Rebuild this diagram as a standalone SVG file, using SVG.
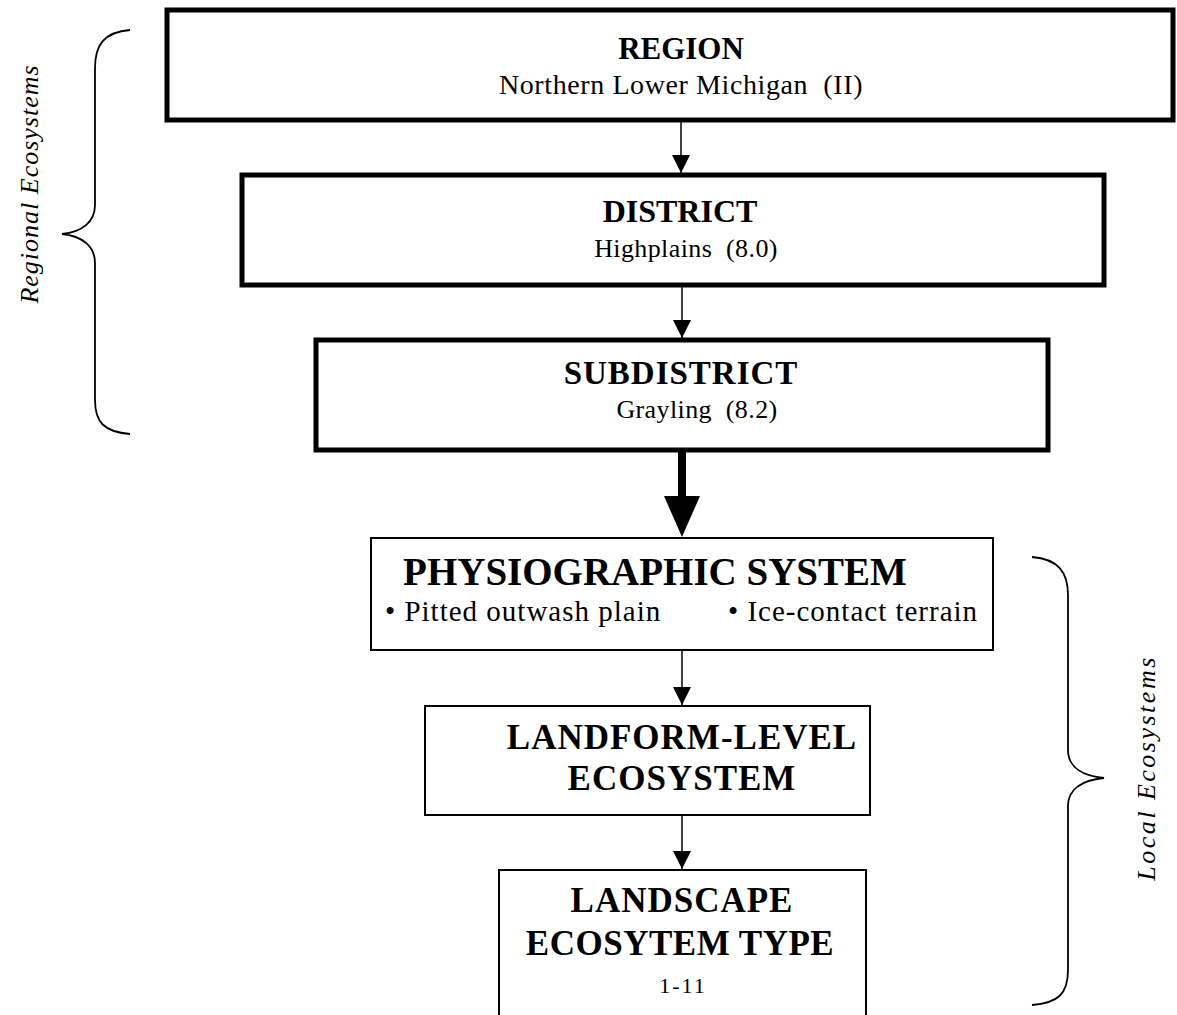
<svg xmlns="http://www.w3.org/2000/svg" width="1177" height="1015" viewBox="0 0 1177 1015">
<style>
  .bg { fill: #ffffff; }
  .boxT { fill: #ffffff; stroke: #000; stroke-width: 5; }
  .boxt { fill: #ffffff; stroke: #000; stroke-width: 2; }
  .title { font-family: "Liberation Serif", "Times New Roman", serif; font-weight: bold; fill: #000; text-anchor: middle; }
  .sub { font-family: "Liberation Serif", "Times New Roman", serif; fill: #000; text-anchor: middle; white-space: pre; }
  .bul { font-family: "Liberation Serif", "Times New Roman", serif; fill: #000; text-anchor: start; font-size: 29px; letter-spacing: 1px; }
  .side { font-family: "Liberation Serif", "Times New Roman", serif; font-style: italic; fill: #000; text-anchor: middle; font-size: 26px; }
  .conn { stroke: #000; stroke-width: 1.5; fill: none; }
  .thick { stroke: #000; stroke-width: 8; fill: none; }
  .brace { stroke: #000; stroke-width: 1.8; fill: none; }
</style>
<defs>
  <marker id="ah" markerUnits="userSpaceOnUse" markerWidth="18" markerHeight="18" refX="18" refY="9" orient="auto">
    <path d="M0,0 L18,9 L0,18 Z" fill="#000"/>
  </marker>
</defs>
<rect class="bg" x="0" y="0" width="1177" height="1015"/>

<g id="connectors">
  <line class="conn" x1="681" y1="122" x2="681" y2="173" marker-end="url(#ah)"/>
  <line class="conn" x1="682" y1="287" x2="682" y2="338" marker-end="url(#ah)"/>
  <line class="thick" x1="682" y1="452" x2="682" y2="500"/>
  <path d="M664,496 L700,496 L682,537 Z" fill="#000"/>
  <line class="conn" x1="682" y1="651" x2="682" y2="705" marker-end="url(#ah)"/>
  <line class="conn" x1="682" y1="816" x2="682" y2="869" marker-end="url(#ah)"/>
</g>

<g id="region">
  <rect class="boxT" x="167" y="10" width="1006" height="110"/>
  <text class="title" x="681" y="59" font-size="31">REGION</text>
  <text class="sub" x="681" y="94" font-size="28" letter-spacing="0.6" xml:space="preserve">Northern Lower Michigan  (II)</text>
</g>

<g id="district">
  <rect class="boxT" x="242" y="175" width="862" height="110"/>
  <text class="title" x="680" y="222" font-size="32">DISTRICT</text>
  <text class="sub" x="686" y="257" font-size="26" letter-spacing="0.4" xml:space="preserve">Highplains  (8.0)</text>
</g>

<g id="subdistrict">
  <rect class="boxT" x="316" y="340" width="732" height="110"/>
  <text class="title" x="681" y="384" font-size="33" letter-spacing="1">SUBDISTRICT</text>
  <text class="sub" x="697" y="418" font-size="26" letter-spacing="0.4" xml:space="preserve">Grayling  (8.2)</text>
</g>

<g id="physiographic">
  <rect class="boxt" x="371" y="538" width="622" height="112"/>
  <text class="title" x="655" y="585" font-size="39">PHYSIOGRAPHIC SYSTEM</text>
  <text class="bul" x="385" y="621">• Pitted outwash plain</text>
  <text class="bul" x="728" y="621">• Ice-contact terrain</text>
</g>

<g id="landform">
  <rect class="boxt" x="425" y="706" width="445" height="109"/>
  <text class="title" x="682" y="749" font-size="35" letter-spacing="1">LANDFORM-LEVEL</text>
  <text class="title" x="682" y="790" font-size="35" letter-spacing="1">ECOSYSTEM</text>
</g>

<g id="landscape">
  <rect class="boxt" x="499" y="870" width="367" height="160"/>
  <text class="title" x="682" y="912" font-size="35" letter-spacing="1">LANDSCAPE</text>
  <text class="title" x="680" y="955" font-size="35" letter-spacing="0.5">ECOSYTEM TYPE</text>
  <text class="sub" x="683" y="993" font-size="22" letter-spacing="2">1-11</text>
</g>

<g id="regional-brace">
  <path class="brace" d="M130,30 C104,32 95,45 95,68 L95,205 C95,222 82,232 62,234 C82,236 95,246 95,263 L95,400 C95,422 104,432 130,434"/>
  <text class="side" transform="translate(38,184) rotate(-90)" letter-spacing="1">Regional Ecosystems</text>
</g>

<g id="local-brace">
  <path class="brace" d="M1032,557 C1058,559 1068,572 1068,595 L1068,750 C1068,768 1084,776 1104,778 C1084,780 1068,788 1068,806 L1068,970 C1068,994 1058,1003 1032,1005"/>
  <text class="side" transform="translate(1155,768) rotate(-90)" letter-spacing="2.5">Local Ecosystems</text>
</g>
</svg>
